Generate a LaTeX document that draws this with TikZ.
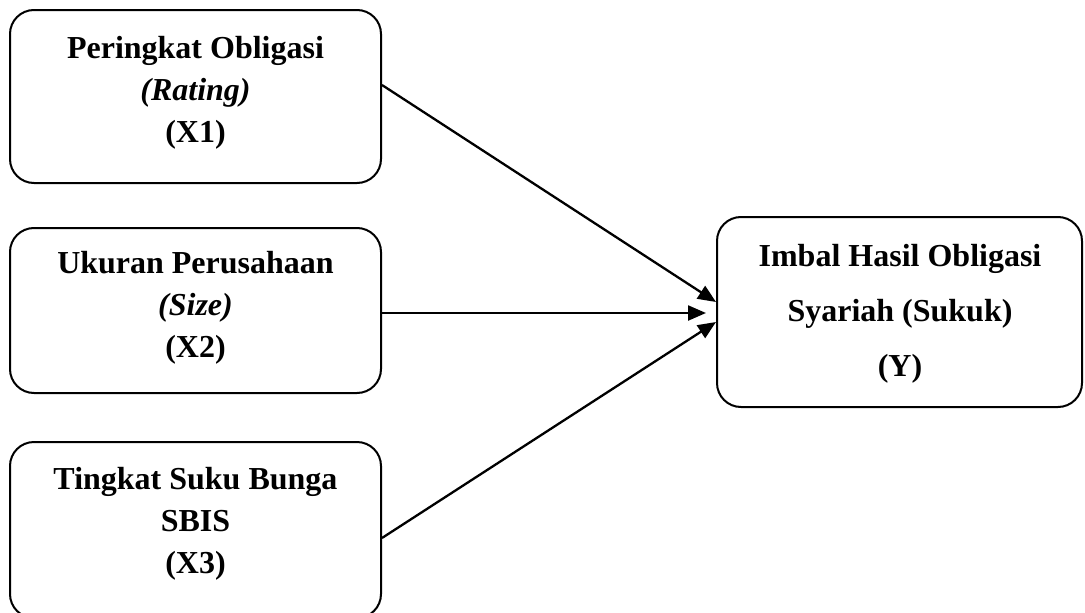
\documentclass[tikz,border=0pt]{standalone}
\usepackage{fontspec}
\setmainfont{Liberation Serif}
\usetikzlibrary{arrows.meta}
\begin{document}
\begin{tikzpicture}[x=1pt,y=-1pt,
  box/.style={draw, line width=2pt, rounded corners=24pt, minimum width=371pt, inner sep=0pt},
  lbl/.style={align=center, inner sep=0pt, font=\fontsize{32}{42}\selectfont\bfseries},
  lbly/.style={align=center, inner sep=0pt, font=\fontsize{32}{55}\selectfont\bfseries},
  arr/.style={line width=2.3pt, -{Triangle[length=18pt,width=15pt]}}]
\useasboundingbox (0,0) rectangle (1085,613);
\node[box, minimum height=173pt] (b1) at (195.5,96.5) {};
\node[box, minimum height=165pt] (b2) at (195.5,310.5) {};
\node[box, minimum height=176pt] (b3) at (195.5,530) {};
\node[box, minimum width=365pt, minimum height=190pt] (y) at (899.5,312) {};
\node[lbl] (t1) at (195.5,92.5) {Peringkat Obligasi\\\textit{(Rating)}\\(X1)};
\node[lbl] (t2) at (195.5,308) {Ukuran Perusahaan\\\textit{(Size)}\\(X2)};
\node[lbl] (t3) at (195.5,523.5) {Tingkat Suku Bunga\\SBIS\\(X3)};
\node[lbly] (ty) at (900,313.5) {Imbal Hasil Obligasi\\Syariah (Sukuk)\\(Y)};
\draw[arr] ([yshift=11.5pt]b1.east) -- ([yshift=10pt]y.west);
\draw[arr] ([yshift=-2.5pt]b2.east) -- ([xshift=-10pt,yshift=-1pt]y.west);
\draw[arr] ([yshift=-8pt]b3.east) -- ([yshift=-10pt]y.west);
\end{tikzpicture}
\end{document}
